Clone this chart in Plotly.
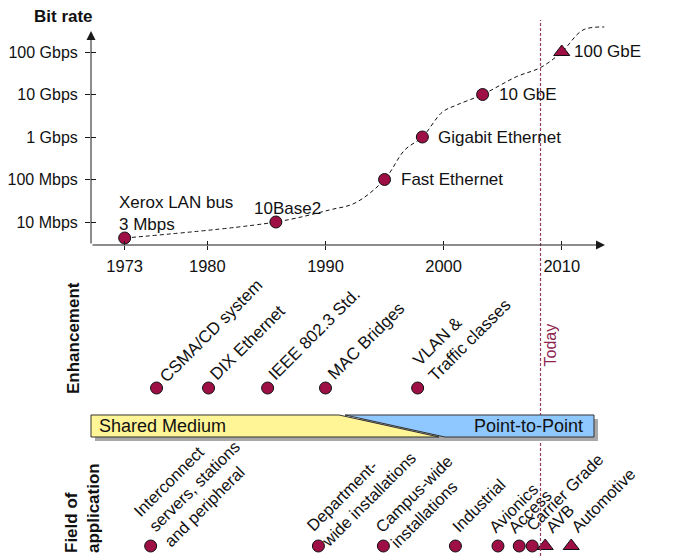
import numpy as np
import plotly.graph_objects as go

# ---------------- data ----------------
tech_labels = ["Xerox LAN bus<br>3 Mbps", "10Base2", "Fast Ethernet", "Gigabit Ethernet", "10 GbE", "100 GbE"]
tech_years = [1973.0, 1985.8, 1995.0, 1998.2, 2003.3, 2010.0]
tech_rates_mbps = [4.2, 10, 100, 1000, 10000, 100000]

trend_years = [1973.0, 1985.8, 1990.4, 1992.5, 1995.0, 1996.7, 1998.2, 1999.9, 2001.1, 2003.3, 2006.2, 2008.2, 2010.0, 2011.8, 2013.6]
trend_rates = [4.2, 10, 19.4, 28, 100, 494, 1000, 3875, 5660, 10000, 26500, 43000, 100000, 330000, 387000]

rate_tick_vals = [10, 100, 1000, 10000, 100000]
rate_tick_text = ["10 Mbps", "100 Mbps", "1 Gbps", "10 Gbps", "100 Gbps"]
year_ticks = [1973, 1980, 1990, 2000, 2010]

enh_labels = ["CSMA/CD system", "DIX Ethernet", "IEEE 802.3 Std.", "MAC Bridges", "VLAN &<br>Traffic classes"]
enh_years = [1975.7, 1980.1, 1985.1, 1990.0, 1997.8]

app_labels = ["Interconnect<br>servers, stations<br>and peripheral", "Department-<br>wide installations",
              "Campus-wide<br>installations", "Industrial", "Avionics", "Access", "Carrier Grade", "AVB", "Automotive"]
app_years = [1975.2, 1989.4, 1994.9, 2001.0, 2004.6, 2006.4, 2007.5, 2008.6, 2010.8]
app_planned = [False, False, False, False, False, False, False, True, True]

today_year = 2008.2
phase_labels = ["Shared Medium", "Point-to-Point"]

# ---------------- style / layout constants ----------------
OFF = 8                      # page body margin
W, H = 673 - OFF, 556 - OFF  # figure size
FONT = "Liberation Sans, Arial, sans-serif"
RED = "#9E0F45"
TODAY = "#9A3B60"
AX = "#1a1a1a"

def px(xp):      # window pixel -> paper
    return (xp - OFF) / W

def py(yp):      # window pixel (from top) -> paper
    return 1 - (yp - OFF) / H

x_dom = [px(91), px(605)]
x_rng = [1970.15, 2013.66]
y_dom = [py(245), py(20)]
y_rng = [0.4588, 5.753]
ENH_ROW, APP_ROW = 388, 546
ROW_TOP, ROW_BOT = 300, 556

fig = go.Figure()

# trend line
fig.add_trace(go.Scatter(x=trend_years, y=trend_rates, mode="lines",
                         line=dict(color="#111", width=1, dash="4px,3px", shape="spline", smoothing=1.0),
                         hoverinfo="skip", cliponaxis=False))
# technology markers
sym = ["circle"] * (len(tech_years) - 1) + ["triangle-up"]
fig.add_trace(go.Scatter(x=tech_years, y=tech_rates_mbps, mode="markers", cliponaxis=False,
                         marker=dict(symbol=sym, size=[12] * 5 + [14], color=RED, opacity=1,
                                     line=dict(color="#111", width=1))))
# enhancement markers
fig.add_trace(go.Scatter(x=enh_years, y=[ENH_ROW] * len(enh_years), yaxis="y2", mode="markers", cliponaxis=False,
                         marker=dict(symbol="circle", size=12, color=RED, opacity=1,
                                     line=dict(color="#111", width=1))))
# application markers
fig.add_trace(go.Scatter(x=app_years, y=[APP_ROW] * len(app_years), yaxis="y2", mode="markers", cliponaxis=False,
                         marker=dict(symbol=["triangle-up" if p else "circle" for p in app_planned],
                                     size=[14 if p else 12 for p in app_planned], color=RED, opacity=1,
                                     line=dict(color="#111", width=1))))
# helper trace for crossing ticks
fig.add_trace(go.Scatter(x=[None], y=[None], xaxis="x2", yaxis="y3", showlegend=False, hoverinfo="skip"))

ann = []
f17 = dict(family=FONT, size=17, color="#111")

# technology labels (offsets in px from the marker)
tech_off = [(-6.7, 25, "left"), (12, 14, "center"), (15, 0, "left"), (15, 0, "left"), (15, 0, "left"), (11, 0, "left")]
for lab, yr, r, (dx, dy, xa) in zip(tech_labels, tech_years, tech_rates_mbps, tech_off):
    ann.append(dict(x=yr, y=np.log10(r), xref="x", yref="y", text=lab, showarrow=False, xanchor=xa,
                    yanchor="middle", xshift=dx, yshift=dy, align="left", font=f17, borderpad=0))

def rot_label(yr, row, text, ink_dx, ink_dy, fs):
    n = text.count("<br>") + 1
    Hb = (n - 1) * 1.3 * fs + 1.15 * fs
    d = 0.707 * 0.21 * fs
    bx = ink_dx + d - 0.707 * Hb
    by = ink_dy + d
    return dict(x=yr, y=row, xref="x", yref="y2", text=text, textangle=-45, showarrow=False,
                xanchor="left", yanchor="bottom", xshift=bx, yshift=-by, align="left",
                font=dict(family=FONT, size=fs, color="#111"), borderpad=0)

enh_ink = [(10, -3), (8, -5), (7, -5), (8, -6), (17, -4)]
for lab, yr, (dx, dy) in zip(enh_labels, enh_years, enh_ink):
    ann.append(rot_label(yr, ENH_ROW, lab, dx, dy, 17))

app_ink = [(19, 3), (9, 3), (13, 4), (3, -12), (-3, -11), (-5, -11), (0, -13), (7, -11), (6, -11)]
for lab, yr, (dx, dy) in zip(app_labels, app_years, app_ink):
    ann.append(rot_label(yr, APP_ROW, lab, dx, dy, 16.5))

# section titles
ann.append(dict(x=px(63), y=py(17), xref="paper", yref="paper", text="<b>Bit rate</b>", showarrow=False,
                xanchor="center", yanchor="middle", font=f17))
ann.append(dict(x=px(73), y=py(395), xref="paper", yref="paper", text="<b>Enhancement</b>", showarrow=False,
                textangle=-90, xanchor="center", yanchor="bottom", font=f17, borderpad=0))
ann.append(dict(x=px(82), y=py(554), xref="paper", yref="paper", text="<b>Field of<br>application</b>",
                showarrow=False, textangle=-90, xanchor="center", yanchor="bottom", align="left",
                font=f17, borderpad=0))
ann.append(dict(x=today_year, y=345, xref="x", yref="y2", text="Today", showarrow=False, textangle=-90,
                xanchor="center", yanchor="middle", xshift=9, font=dict(family=FONT, size=16, color="#8E2450")))

# axis arrows
ann.append(dict(x=px(605), y=py(245), xref="paper", yref="paper", ax=-514, ay=0, axref="pixel", ayref="pixel",
                text="", showarrow=True, arrowhead=2, arrowsize=1.8, arrowwidth=1, arrowcolor=AX, standoff=0))
ann.append(dict(x=px(91), y=py(31), xref="paper", yref="paper", ax=0, ay=214, axref="pixel", ayref="pixel",
                text="", showarrow=True, arrowhead=2, arrowsize=1.8, arrowwidth=1, arrowcolor=AX, standoff=0))

# phase bar
ann.append(dict(x=px(97), y=py(426), xref="paper", yref="paper", text=phase_labels[0], showarrow=False,
                xanchor="left", yanchor="middle", font=dict(family=FONT, size=18, color="#111")))
ann.append(dict(x=px(585), y=py(426), xref="paper", yref="paper", text=phase_labels[1], showarrow=False,
                xanchor="right", yanchor="middle", font=dict(family=FONT, size=18, color="#111")))

def ppath(pts):
    return "M " + " L ".join(f"{px(a):.5f},{py(b):.5f}" for a, b in pts) + " Z"

shapes = [
    dict(type="line", xref="x", yref="paper", x0=today_year, x1=today_year, y0=0, y1=py(20),
         line=dict(color=TODAY, width=1.2, dash="3px,2px")),
    dict(type="path", xref="paper", yref="paper", path=ppath([(95, 419), (598, 419), (598, 441), (95, 441)]),
         fillcolor="#A8A8A8", line=dict(width=0)),
    dict(type="path", xref="paper", yref="paper", path=ppath([(91, 415), (339, 415), (439, 437), (91, 437)]),
         fillcolor="#FFF496", line=dict(color="#333", width=1)),
    dict(type="path", xref="paper", yref="paper", path=ppath([(345, 415), (594, 415), (594, 437), (445, 437)]),
         fillcolor="#8EC8FF", line=dict(color="#333", width=1)),
]

fig.update_layout(
    width=W, height=H, margin=dict(l=0, r=0, t=0, b=0, autoexpand=False),
    paper_bgcolor="white", plot_bgcolor="white", showlegend=False,
    font=dict(family=FONT, size=16, color="#111"),
    xaxis=dict(domain=x_dom, range=x_rng, tickvals=year_ticks, ticks="outside", ticklen=4, tickcolor=AX,
               tickfont=dict(family=FONT, size=16.5, color="#111"), showgrid=False, zeroline=False,
               showline=False, anchor="y", ticklabelstandoff=2),
    xaxis2=dict(overlaying="x", anchor="y", range=x_rng, tickvals=year_ticks, ticks="inside", ticklen=4,
                tickcolor=AX, showticklabels=False, showgrid=False, zeroline=False, showline=False),
    yaxis=dict(domain=y_dom, type="log", range=y_rng, tickvals=rate_tick_vals, ticktext=rate_tick_text,
               ticks="outside", ticklen=5, tickcolor=AX, tickfont=dict(family=FONT, size=16, color="#111"),
               showgrid=False, zeroline=False, showline=False, anchor="x", ticklabelstandoff=4),
    yaxis3=dict(overlaying="y", anchor="x", type="log", range=y_rng, tickvals=rate_tick_vals, ticks="inside",
                ticklen=5, tickcolor=AX, showticklabels=False, showgrid=False, zeroline=False, showline=False),
    yaxis2=dict(domain=[0, py(ROW_TOP)], range=[ROW_BOT, ROW_TOP], visible=False, anchor="x"),
    annotations=ann, shapes=shapes,
)

fig.write_html("out.html")
